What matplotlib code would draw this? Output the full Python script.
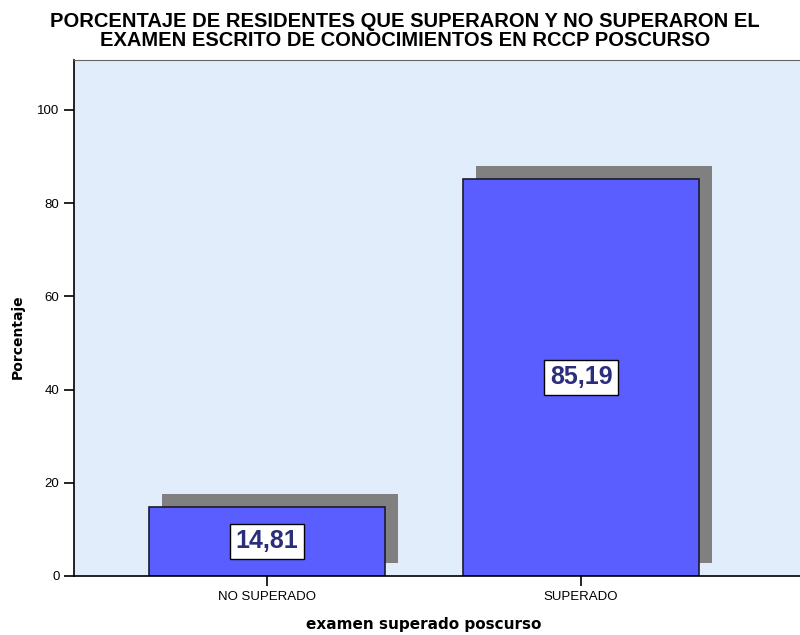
import matplotlib
matplotlib.use("Agg")
import matplotlib.pyplot as plt
import matplotlib.transforms as mtransforms

plt.rcParams['font.family'] = ['Liberation Sans', 'DejaVu Sans']

categorias = ["NO SUPERADO", "SUPERADO"]
porcentajes = [14.81, 85.19]
etiquetas = ["14,81", "85,19"]
yticks = [0, 20, 40, 60, 80, 100]
titulo = ["PORCENTAJE DE RESIDENTES QUE SUPERARON Y NO SUPERARON EL",
          "EXAMEN ESCRITO DE CONOCIMIENTOS EN RCCP POSCURSO"]

fig = plt.figure(figsize=(8, 6.35), dpi=100)
ax = fig.add_axes([74/800, 59/635, 726/800, 516/635])
ax.set_facecolor("#E1EDFA")

x = list(range(len(categorias)))

# sombra desplazada arriba a la derecha
shadow = mtransforms.offset_copy(ax.transData, fig=fig, x=13, y=13, units='dots')
ax.bar(x, porcentajes, width=0.75, color="#808080", transform=shadow, zorder=1)
ax.bar(x, porcentajes, width=0.75, color="#5B5EFF", edgecolor="#1a1a2e", linewidth=1.2, zorder=2)

for xi, v, t in zip(x, porcentajes, etiquetas):
    ax.text(xi, v/2, t, ha='center', va='center', fontsize=18, fontweight='bold',
            color="#2B2E7A", zorder=3,
            bbox=dict(boxstyle='square,pad=0.22', facecolor='white', edgecolor='black', linewidth=1))

ax.set_xlim(-0.615, 1.697)
ax.set_ylim(0, 110.7)
ax.set_xticks(x)
ax.set_xticklabels(categorias, fontsize=9.5)
ax.set_yticks(yticks)
ax.tick_params(axis='y', labelsize=9.5, length=7, width=1.2)
ax.tick_params(axis='x', length=7, width=1.2)

ax.spines['right'].set_visible(False)
ax.spines['top'].set_color("#666666")
ax.spines['left'].set_linewidth(1.2)
ax.spines['bottom'].set_linewidth(1.2)

# titulo en dos lineas
fig.text(405/800, 1 - 27/635, titulo[0], ha='center', va='baseline', fontsize=14.5, fontweight='bold')
fig.text(405/800, 1 - 46/635, titulo[1], ha='center', va='baseline', fontsize=14.5, fontweight='bold')
fig.text(424/800, 1 - 624/635, "examen superado poscurso", ha='center', va='center',
         fontsize=11, fontweight='bold', family='DejaVu Sans')
fig.text(18/800, 1 - 337/635, "Porcentaje", ha='center', va='center', rotation=90,
         fontsize=10, fontweight='bold', family='DejaVu Sans')

fig.savefig("out.png", dpi=100)
